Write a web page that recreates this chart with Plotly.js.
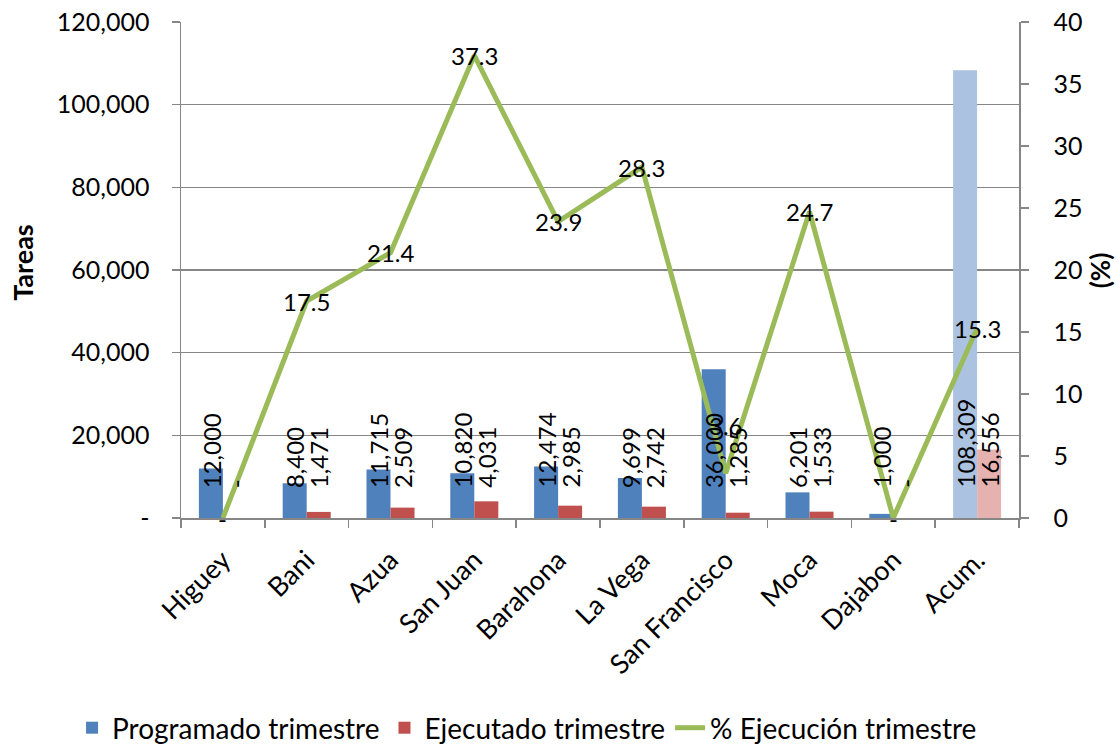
<!DOCTYPE html>
<html>
<head>
<meta charset="utf-8">
<script src="https://cdn.plot.ly/plotly-3.0.1.min.js"></script>
<style>
html,body{margin:0;padding:0;background:#fff;}
#chart{width:1119px;height:746px;}
</style>
</head>
<body>
<div id="chart"></div>
<script>
var categories = ["Higuey", "Bani", "Azua", "San Juan", "Barahona", "La Vega", "San Francisco", "Moca", "Dajabon", "Acum."];
var programado = [12000, 8400, 11715, 10820, 12474, 9699, 36000, 6201, 1000, 108309];
var ejecutado = [0, 1471, 2509, 4031, 2985, 2742, 1285, 1533, 0, 16556];
var ejecucionPct = [0, 17.5, 21.4, 37.3, 23.9, 28.3, 3.6, 24.7, 0, 15.3];
var leftTickVals = [0, 20000, 40000, 60000, 80000, 100000, 120000];
var leftTickText = ["-", "20,000", "40,000", "60,000", "80,000", "100,000", "120,000"];
var rightTickVals = [0, 5, 10, 15, 20, 25, 30, 35, 40];

var FONT = "Lato, 'Open Sans', sans-serif";
var GRAY = "#868686";

function fmtNum(v) { return v === 0 ? "-" : v.toLocaleString("en-US"); }
function fmtPct(v) { return v === 0 ? "-" : v.toFixed(1); }

var blueColors = categories.map(function (c, i) { return i === categories.length - 1 ? "#abc3e1" : "#4f81bd"; });
var redColors = categories.map(function (c, i) { return i === categories.length - 1 ? "#e6b2b0" : "#c0504d"; });

var traces = [
  {
    type: "bar", name: "Programado trimestre", x: categories, y: programado,
    marker: { color: blueColors }, yaxis: "y", hoverinfo: "y"
  },
  {
    type: "bar", name: "Ejecutado trimestre", x: categories, y: ejecutado,
    marker: { color: redColors }, yaxis: "y", hoverinfo: "y"
  },
  {
    type: "scatter", mode: "lines", name: "% Ejecución trimestre", x: categories, y: ejecucionPct,
    yaxis: "y2", line: { color: "#9bbb59", width: 5 }, hoverinfo: "y"
  }
];

var annotations = [];
var labelBase = 6800;
categories.forEach(function (c, i) {
  annotations.push({
    x: c, y: labelBase, xref: "x", yref: "y", text: fmtNum(programado[i]),
    textangle: -90, showarrow: false, xanchor: "center", yanchor: "bottom",
    xshift: -12, font: { family: FONT, size: 24, color: "#000" }
  });
  annotations.push({
    x: c, y: labelBase, xref: "x", yref: "y", text: fmtNum(ejecutado[i]),
    textangle: -90, showarrow: false, xanchor: "center", yanchor: "bottom",
    xshift: 12, font: { family: FONT, size: 24, color: "#000" }
  });
  annotations.push({
    x: c, y: ejecucionPct[i], xref: "x", yref: "y2", text: fmtPct(ejecucionPct[i]),
    showarrow: false, xanchor: "center", yanchor: "middle",
    yshift: (c === "San Francisco") ? 48 : 0,
    font: { family: FONT, size: 24, color: "#000" }
  });
});

// Axis titles
annotations.push({
  xref: "paper", yref: "paper", x: -0.19, y: 0.516, text: "<b>Tareas</b>",
  textangle: -90, showarrow: false, xanchor: "center", yanchor: "middle",
  font: { family: FONT, size: 27, color: "#000", weight: "bold" }
});
annotations.push({
  xref: "paper", yref: "paper", x: 1.097, y: 0.5, text: "<b>(%)</b>",
  textangle: -90, showarrow: false, xanchor: "center", yanchor: "middle",
  font: { family: FONT, size: 26, color: "#000", weight: "bold" }
});

var layout = {
  width: 1119, height: 746,
  margin: { l: 181, r: 100, t: 22, b: 228, pad: 0, autoexpand: false },
  paper_bgcolor: "#fff", plot_bgcolor: "#fff",
  font: { family: FONT, size: 24, color: "#000" },
  barmode: "group", bargap: 0.427, bargroupgap: 0,
  showlegend: true,
  legend: {
    orientation: "h", x: -0.13, xanchor: "left", y: -0.4234, yanchor: "middle",
    font: { family: FONT, size: 28, color: "#000" }, traceorder: "normal"
  },
  xaxis: {
    type: "category", showline: true, linecolor: GRAY, linewidth: 1.5,
    ticks: "outside", tickson: "boundaries", ticklen: 8, tickcolor: GRAY, tickwidth: 1.5,
    tickangle: -45, tickfont: { family: FONT, size: 27, color: "#000" },
    ticklabelstandoff: 14, showgrid: false, zeroline: false, automargin: false
  },
  yaxis: {
    range: [0, 120000], tickvals: leftTickVals, ticktext: leftTickText,
    showline: true, linecolor: GRAY, linewidth: 1.5,
    ticks: "outside", ticklen: 8, tickcolor: GRAY, tickwidth: 1.5,
    showgrid: true, gridcolor: GRAY, gridwidth: 1.5, zeroline: false,
    tickfont: { family: FONT, size: 25, color: "#000" }, ticklabelstandoff: 17,
    automargin: false, fixedrange: true
  },
  yaxis2: {
    range: [0, 40], tickvals: rightTickVals, overlaying: "y", side: "right",
    showline: true, linecolor: GRAY, linewidth: 1.5,
    ticks: "outside", ticklen: 8, tickcolor: GRAY, tickwidth: 1.5,
    showgrid: false, zeroline: false,
    tickfont: { family: FONT, size: 25, color: "#000" }, ticklabelstandoff: 20,
    automargin: false, fixedrange: true
  },
  annotations: annotations
};

Plotly.newPlot("chart", traces, layout, { displayModeBar: false, staticPlot: true });
</script>
</body>
</html>
